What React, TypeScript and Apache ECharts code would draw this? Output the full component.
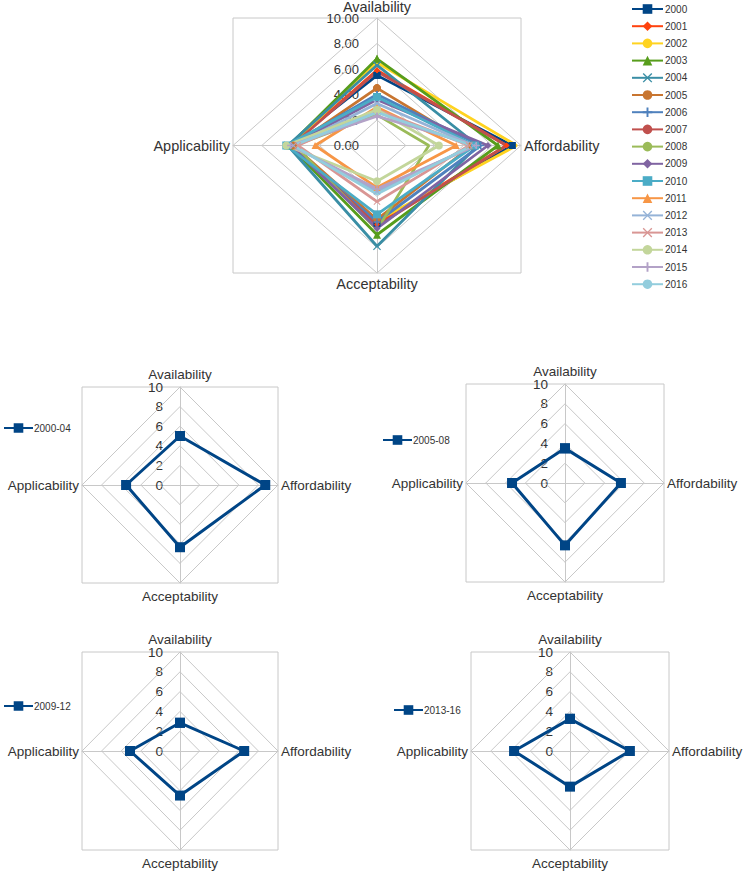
import React, { useEffect, useRef } from "react";
import * as echarts from "echarts";

const CATEGORIES = ["Availability", "Affordability", "Acceptability", "Applicability"];
const YEARS = ["2000","2001","2002","2003","2004","2005","2006","2007","2008","2009","2010","2011","2012","2013","2014","2015","2016"];
const AVAILABILITY = [5.5, 5.9, 6.5, 6.8, 6.3, 4.5, 4.0, 5.8, 2.4, 3.6, 3.8, 3.0, 3.3, 2.8, 2.8, 2.3, 2.6];
const AFFORDABILITY = [9.4, 9.0, 9.7, 8.4, 7.0, 6.6, 7.2, 9.0, 3.6, 7.7, 6.8, 5.5, 6.7, 6.4, 4.3, 6.9, 6.6];
const ACCEPTABILITY = [6.1, 6.2, 5.9, 7.0, 7.9, 5.8, 6.0, 6.3, 6.6, 6.5, 5.4, 3.3, 3.6, 4.4, 2.8, 3.4, 3.8];
const APPLICABILITY = [6.2, 6.0, 6.0, 6.1, 6.2, 5.8, 6.1, 5.9, 5.7, 6.0, 6.3, 4.3, 5.8, 5.5, 6.3, 6.0, 5.8];

const PERIODS = ["2000-04", "2005-08", "2009-12", "2013-16"];
const PERIOD_AVAILABILITY = [5.0, 3.5, 2.85, 3.25];
const PERIOD_AFFORDABILITY = [8.7, 5.65, 6.55, 6.05];
const PERIOD_ACCEPTABILITY = [6.35, 6.3, 4.5, 3.6];
const PERIOD_APPLICABILITY = [5.5, 5.35, 5.1, 5.65];

const TICKS = [0, 2, 4, 6, 8, 10];

const COLORS = ["#004586","#ff420e","#ffd320","#579d1c","#3a8ea5","#c87530","#4f81bd","#c0504d","#9bbb59","#8064a2","#4bacc6","#f79646","#95b3d7","#d99694","#c3d69b","#b3a2c7","#93cddd"];
const X_SYM = "path://M0 1L1 0L5 4L9 0L10 1L6 5L10 9L9 10L5 6L1 10L0 9L4 5Z";
const PLUS_SYM = "path://M4 0H6V4H10V6H6V10H4V6H0V4H4Z";
const SYMBOLS = ["rect","diamond","none","triangle",X_SYM,"circle",PLUS_SYM,"none","none","diamond","rect","triangle",X_SYM,X_SYM,"circle",PLUS_SYM,"none"];
const SYMBOL_SIZES = [7,6,0,8,8,8,7,0,0,7,8,7,7,7,8,7,0];

const FONT = "Liberation Sans, Arial, sans-serif";
const GRAY = "#c8c8c8";
const TEXT = "#333";

// layout of the five panels
const PANELS = [
  { left: 233, top: 18, width: 288, height: 255, big: true },
  { left: 82, top: 387, width: 196, height: 196, big: false },
  { left: 466, top: 384, width: 198, height: 198, big: false },
  { left: 82, top: 652, width: 196, height: 198, big: false },
  { left: 471, top: 652, width: 198, height: 198, big: false },
];
const SMALL_LEGENDS = [
  { left: 3, top: 423 },
  { left: 382, top: 435 },
  { left: 3, top: 701 },
  { left: 393, top: 705 },
];

function toPoints(av: number, af: number, ac: number, ap: number) {
  return [[0, av], [af, 0], [0, -ac], [-ap, 0], [0, av]];
}

export default function App() {
  const ref = useRef<HTMLDivElement>(null);
  useEffect(() => {
    if (!ref.current) return;
    const chart = echarts.init(ref.current, null, { renderer: "svg" });
    const grid: any[] = [];
    const xAxis: any[] = [];
    const yAxis: any[] = [];
    const series: any[] = [];
    const graphic: any[] = [];
    const legend: any[] = [];
    const maxTick = TICKS[TICKS.length - 1];

    PANELS.forEach((p, i) => {
      grid.push({ left: p.left, top: p.top, width: p.width, height: p.height, show: true, borderColor: GRAY, borderWidth: 1, containLabel: false });
      xAxis.push({
        type: "value", gridIndex: i, min: -maxTick, max: maxTick, interval: 2,
        position: "bottom", offset: -p.height / 2,
        axisLine: { show: true, onZero: false, lineStyle: { color: GRAY, width: 1 } },
        axisTick: { show: false }, axisLabel: { show: false }, splitLine: { show: false },
      });
      yAxis.push({
        type: "value", gridIndex: i, min: -maxTick, max: maxTick, interval: 2,
        position: "left", offset: -p.width / 2,
        axisLine: { show: true, onZero: false, lineStyle: { color: GRAY, width: 1 } },
        axisTick: { show: false }, splitLine: { show: false },
        axisLabel: {
          show: true, margin: p.big ? 18 : 17, color: TEXT, fontFamily: FONT, fontSize: p.big ? 13 : 13.5,
          showMinLabel: true, showMaxLabel: true,
          formatter: (v: number) => (v >= 0 ? (p.big ? v.toFixed(2) : String(v)) : ""),
        },
      });
      TICKS.filter((t) => t > 0).forEach((r) => {
        series.push({
          type: "line", xAxisIndex: i, yAxisIndex: i, silent: true, symbol: "none", z: 1,
          data: toPoints(r, r, r, r), lineStyle: { color: GRAY, width: 1 }, legendHoverLink: false,
          tooltip: { show: false },
        });
      });
      const cx = p.left + p.width / 2;
      const cy = p.top + p.height / 2;
      const fs = p.big ? 14.5 : 13.5;
      const font = `${fs}px ${FONT}`;
      const gap = p.big ? 11 : 13;
      graphic.push(
        { type: "text", x: cx, y: p.top - gap, style: { text: CATEGORIES[0], font, fill: TEXT, align: "center", verticalAlign: "middle", textAlign: "center", textVerticalAlign: "middle" } },
        { type: "text", x: p.left + p.width + 3, y: cy, style: { text: CATEGORIES[1], font, fill: TEXT, align: "left", verticalAlign: "middle", textAlign: "left", textVerticalAlign: "middle" } },
        { type: "text", x: cx, y: p.top + p.height + gap, style: { text: CATEGORIES[2], font, fill: TEXT, align: "center", verticalAlign: "middle", textAlign: "center", textVerticalAlign: "middle" } },
        { type: "text", x: p.left - 3, y: cy, style: { text: CATEGORIES[3], font, fill: TEXT, align: "right", verticalAlign: "middle", textAlign: "right", textVerticalAlign: "middle" } },
      );
    });

    YEARS.forEach((y, k) => {
      series.push({
        name: y, type: "line", xAxisIndex: 0, yAxisIndex: 0, z: 2,
        data: toPoints(AVAILABILITY[k], AFFORDABILITY[k], ACCEPTABILITY[k], APPLICABILITY[k]),
        symbol: SYMBOLS[k], symbolSize: SYMBOL_SIZES[k], showSymbol: SYMBOLS[k] !== "none",
        itemStyle: { color: COLORS[k] }, lineStyle: { color: COLORS[k], width: 2.8 },
      });
    });
    legend.push({
      data: YEARS, orient: "vertical", left: 631, top: 3, itemWidth: 31, itemHeight: 12, itemGap: 5.2,
      textStyle: { fontFamily: FONT, fontSize: 10, color: TEXT, lineHeight: 12, padding: [0, 0, 0, -3] },
      padding: 0, selectedMode: false,
    });

    PERIODS.forEach((name, j) => {
      series.push({
        name, type: "line", xAxisIndex: j + 1, yAxisIndex: j + 1, z: 2,
        data: toPoints(PERIOD_AVAILABILITY[j], PERIOD_AFFORDABILITY[j], PERIOD_ACCEPTABILITY[j], PERIOD_APPLICABILITY[j]),
        symbol: "rect", symbolSize: 10,
        itemStyle: { color: "#004586" }, lineStyle: { color: "#004586", width: 3 },
      });
      legend.push({
        data: [name], orient: "vertical", left: SMALL_LEGENDS[j].left, top: SMALL_LEGENDS[j].top,
        itemWidth: 29, itemHeight: 12, padding: 0, selectedMode: false,
        textStyle: { fontFamily: FONT, fontSize: 10, color: TEXT, padding: [0, 0, 0, -4] },
      });
    });

    chart.setOption({
      animation: false,
      backgroundColor: "#ffffff",
      grid, xAxis, yAxis, series, legend, graphic,
    });
    return () => chart.dispose();
  }, []);
  return <div ref={ref} style={{ position: "fixed", left: 0, top: 0, width: 749, height: 871 }} />;
}
